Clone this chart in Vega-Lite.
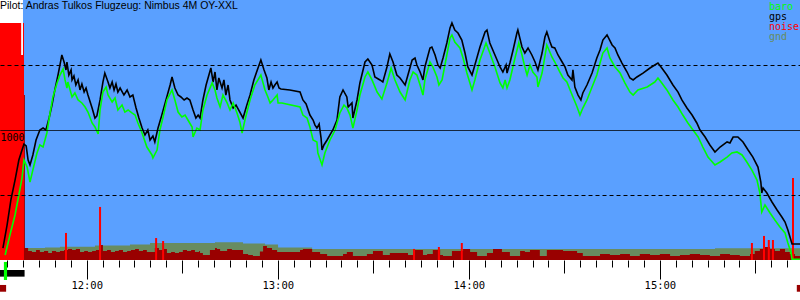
{
"$schema": "https://vega.github.io/schema/vega-lite/v6.json",
"width": 800, "height": 260,
"autosize": "none",
"padding": {"left": 0, "top": 0, "right": 0, "bottom": 40},
"background": "white",
"view": {"fill": "#5aa0ff", "stroke": null},
"datasets": {
"lines": [
{"t":693.7,"s":"gps","alt":92},{"t":695.0,"s":"gps","alt":269},{"t":696.2,"s":"gps","alt":462},{"t":697.5,"s":"gps","alt":615},{"t":698.7,"s":"gps","alt":769},{"t":699.7,"s":"gps","alt":846},{"t":700.3,"s":"gps","alt":892},{"t":701.0,"s":"gps","alt":877},{"t":701.6,"s":"gps","alt":769},{"t":702.2,"s":"gps","alt":731},{"t":703.1,"s":"gps","alt":808},{"t":704.1,"s":"gps","alt":923},{"t":705.3,"s":"gps","alt":1000},{"t":706.3,"s":"gps","alt":1015},{"t":707.2,"s":"gps","alt":1000},{"t":708.2,"s":"gps","alt":1092},{"t":709.1,"s":"gps","alt":1192},{"t":710.0,"s":"gps","alt":1308},{"t":711.0,"s":"gps","alt":1423},{"t":711.9,"s":"gps","alt":1538},{"t":712.2,"s":"gps","alt":1577},{"t":712.9,"s":"gps","alt":1523},{"t":713.5,"s":"gps","alt":1462},{"t":713.8,"s":"gps","alt":1523},{"t":714.4,"s":"gps","alt":1423},{"t":715.1,"s":"gps","alt":1462},{"t":715.4,"s":"gps","alt":1385},{"t":716.0,"s":"gps","alt":1415},{"t":716.6,"s":"gps","alt":1346},{"t":717.3,"s":"gps","alt":1385},{"t":717.9,"s":"gps","alt":1308},{"t":718.5,"s":"gps","alt":1354},{"t":719.2,"s":"gps","alt":1292},{"t":719.8,"s":"gps","alt":1323},{"t":720.4,"s":"gps","alt":1269},{"t":721.7,"s":"gps","alt":1169},{"t":722.6,"s":"gps","alt":1092},{"t":723.2,"s":"gps","alt":1108},{"t":724.2,"s":"gps","alt":1231},{"t":725.1,"s":"gps","alt":1369},{"t":725.7,"s":"gps","alt":1438},{"t":726.7,"s":"gps","alt":1369},{"t":727.3,"s":"gps","alt":1323},{"t":728.0,"s":"gps","alt":1369},{"t":728.6,"s":"gps","alt":1308},{"t":729.2,"s":"gps","alt":1354},{"t":729.8,"s":"gps","alt":1292},{"t":730.5,"s":"gps","alt":1323},{"t":731.7,"s":"gps","alt":1269},{"t":732.7,"s":"gps","alt":1308},{"t":733.6,"s":"gps","alt":1254},{"t":734.5,"s":"gps","alt":1269},{"t":735.5,"s":"gps","alt":1169},{"t":736.4,"s":"gps","alt":1092},{"t":737.4,"s":"gps","alt":1015},{"t":738.3,"s":"gps","alt":962},{"t":739.2,"s":"gps","alt":1000},{"t":739.9,"s":"gps","alt":923},{"t":740.8,"s":"gps","alt":954},{"t":741.4,"s":"gps","alt":908},{"t":742.4,"s":"gps","alt":1015},{"t":743.6,"s":"gps","alt":1115},{"t":744.9,"s":"gps","alt":1231},{"t":746.2,"s":"gps","alt":1346},{"t":746.8,"s":"gps","alt":1408},{"t":747.7,"s":"gps","alt":1323},{"t":748.7,"s":"gps","alt":1269},{"t":749.6,"s":"gps","alt":1254},{"t":750.6,"s":"gps","alt":1231},{"t":751.5,"s":"gps","alt":1246},{"t":752.4,"s":"gps","alt":1231},{"t":753.4,"s":"gps","alt":1154},{"t":754.3,"s":"gps","alt":1092},{"t":755.0,"s":"gps","alt":1115},{"t":755.6,"s":"gps","alt":1092},{"t":756.5,"s":"gps","alt":1231},{"t":757.5,"s":"gps","alt":1346},{"t":759.0,"s":"gps","alt":1477},{"t":759.7,"s":"gps","alt":1369},{"t":760.3,"s":"gps","alt":1446},{"t":760.9,"s":"gps","alt":1308},{"t":761.5,"s":"gps","alt":1400},{"t":762.5,"s":"gps","alt":1323},{"t":763.1,"s":"gps","alt":1385},{"t":763.7,"s":"gps","alt":1269},{"t":764.4,"s":"gps","alt":1346},{"t":765.0,"s":"gps","alt":1231},{"t":766.0,"s":"gps","alt":1169},{"t":766.9,"s":"gps","alt":1192},{"t":768.1,"s":"gps","alt":1138},{"t":769.1,"s":"gps","alt":1092},{"t":770.3,"s":"gps","alt":1192},{"t":771.3,"s":"gps","alt":1269},{"t":772.5,"s":"gps","alt":1385},{"t":773.8,"s":"gps","alt":1477},{"t":774.7,"s":"gps","alt":1538},{"t":775.7,"s":"gps","alt":1462},{"t":776.6,"s":"gps","alt":1400},{"t":777.2,"s":"gps","alt":1308},{"t":777.9,"s":"gps","alt":1369},{"t":778.5,"s":"gps","alt":1323},{"t":779.1,"s":"gps","alt":1346},{"t":779.8,"s":"gps","alt":1369},{"t":780.4,"s":"gps","alt":1323},{"t":781.0,"s":"gps","alt":1315},{"t":783.8,"s":"gps","alt":1308},{"t":787.0,"s":"gps","alt":1292},{"t":787.9,"s":"gps","alt":1231},{"t":788.9,"s":"gps","alt":1200},{"t":790.1,"s":"gps","alt":1115},{"t":791.1,"s":"gps","alt":1077},{"t":791.7,"s":"gps","alt":1038},{"t":792.3,"s":"gps","alt":1015},{"t":793.0,"s":"gps","alt":1046},{"t":793.6,"s":"gps","alt":938},{"t":793.9,"s":"gps","alt":846},{"t":794.5,"s":"gps","alt":885},{"t":795.5,"s":"gps","alt":923},{"t":796.4,"s":"gps","alt":962},{"t":797.3,"s":"gps","alt":1000},{"t":798.6,"s":"gps","alt":1077},{"t":799.5,"s":"gps","alt":1254},{"t":800.5,"s":"gps","alt":1308},{"t":801.7,"s":"gps","alt":1254},{"t":802.1,"s":"gps","alt":1177},{"t":803.3,"s":"gps","alt":1208},{"t":803.6,"s":"gps","alt":1092},{"t":804.9,"s":"gps","alt":1231},{"t":805.8,"s":"gps","alt":1362},{"t":807.4,"s":"gps","alt":1523},{"t":808.3,"s":"gps","alt":1546},{"t":809.6,"s":"gps","alt":1500},{"t":810.5,"s":"gps","alt":1408},{"t":812.1,"s":"gps","alt":1385},{"t":813.0,"s":"gps","alt":1369},{"t":814.3,"s":"gps","alt":1485},{"t":815.2,"s":"gps","alt":1585},{"t":816.2,"s":"gps","alt":1523},{"t":817.4,"s":"gps","alt":1423},{"t":818.4,"s":"gps","alt":1400},{"t":820.0,"s":"gps","alt":1346},{"t":822.2,"s":"gps","alt":1538},{"t":823.1,"s":"gps","alt":1554},{"t":823.7,"s":"gps","alt":1500},{"t":824.7,"s":"gps","alt":1446},{"t":825.6,"s":"gps","alt":1385},{"t":826.2,"s":"gps","alt":1485},{"t":827.8,"s":"gps","alt":1631},{"t":828.4,"s":"gps","alt":1638},{"t":829.4,"s":"gps","alt":1577},{"t":830.3,"s":"gps","alt":1500},{"t":831.0,"s":"gps","alt":1477},{"t":831.9,"s":"gps","alt":1554},{"t":833.1,"s":"gps","alt":1669},{"t":834.1,"s":"gps","alt":1785},{"t":834.7,"s":"gps","alt":1823},{"t":835.6,"s":"gps","alt":1769},{"t":836.6,"s":"gps","alt":1746},{"t":837.8,"s":"gps","alt":1692},{"t":838.8,"s":"gps","alt":1592},{"t":839.7,"s":"gps","alt":1485},{"t":841.0,"s":"gps","alt":1423},{"t":841.9,"s":"gps","alt":1500},{"t":843.5,"s":"gps","alt":1638},{"t":845.1,"s":"gps","alt":1754},{"t":845.7,"s":"gps","alt":1769},{"t":846.6,"s":"gps","alt":1669},{"t":848.2,"s":"gps","alt":1577},{"t":849.8,"s":"gps","alt":1485},{"t":850.7,"s":"gps","alt":1446},{"t":851.7,"s":"gps","alt":1500},{"t":852.0,"s":"gps","alt":1438},{"t":852.9,"s":"gps","alt":1515},{"t":853.9,"s":"gps","alt":1615},{"t":855.1,"s":"gps","alt":1746},{"t":855.4,"s":"gps","alt":1769},{"t":856.7,"s":"gps","alt":1638},{"t":857.6,"s":"gps","alt":1592},{"t":858.6,"s":"gps","alt":1631},{"t":859.8,"s":"gps","alt":1577},{"t":860.8,"s":"gps","alt":1523},{"t":861.7,"s":"gps","alt":1462},{"t":863.0,"s":"gps","alt":1592},{"t":863.9,"s":"gps","alt":1715},{"t":864.5,"s":"gps","alt":1754},{"t":865.5,"s":"gps","alt":1677},{"t":866.1,"s":"gps","alt":1638},{"t":867.0,"s":"gps","alt":1631},{"t":868.0,"s":"gps","alt":1577},{"t":869.3,"s":"gps","alt":1523},{"t":870.2,"s":"gps","alt":1485},{"t":871.1,"s":"gps","alt":1423},{"t":872.4,"s":"gps","alt":1385},{"t":872.7,"s":"gps","alt":1462},{"t":873.3,"s":"gps","alt":1331},{"t":874.3,"s":"gps","alt":1269},{"t":875.2,"s":"gps","alt":1231},{"t":875.8,"s":"gps","alt":1285},{"t":877.1,"s":"gps","alt":1346},{"t":878.7,"s":"gps","alt":1438},{"t":880.2,"s":"gps","alt":1554},{"t":881.2,"s":"gps","alt":1615},{"t":882.1,"s":"gps","alt":1692},{"t":883.4,"s":"gps","alt":1731},{"t":885.0,"s":"gps","alt":1654},{"t":885.9,"s":"gps","alt":1631},{"t":886.8,"s":"gps","alt":1577},{"t":888.1,"s":"gps","alt":1515},{"t":889.7,"s":"gps","alt":1446},{"t":890.6,"s":"gps","alt":1400},{"t":891.6,"s":"gps","alt":1385},{"t":892.8,"s":"gps","alt":1408},{"t":894.7,"s":"gps","alt":1438},{"t":896.9,"s":"gps","alt":1477},{"t":898.4,"s":"gps","alt":1500},{"t":899.4,"s":"gps","alt":1515},{"t":900.6,"s":"gps","alt":1477},{"t":902.2,"s":"gps","alt":1423},{"t":904.1,"s":"gps","alt":1346},{"t":905.7,"s":"gps","alt":1292},{"t":906.9,"s":"gps","alt":1231},{"t":908.5,"s":"gps","alt":1169},{"t":910.1,"s":"gps","alt":1115},{"t":911.6,"s":"gps","alt":1054},{"t":912.6,"s":"gps","alt":1000},{"t":914.2,"s":"gps","alt":946},{"t":915.7,"s":"gps","alt":885},{"t":917.3,"s":"gps","alt":831},{"t":918.9,"s":"gps","alt":869},{"t":921.1,"s":"gps","alt":908},{"t":922.0,"s":"gps","alt":900},{"t":923.0,"s":"gps","alt":946},{"t":924.5,"s":"gps","alt":946},{"t":926.1,"s":"gps","alt":908},{"t":927.7,"s":"gps","alt":846},{"t":929.2,"s":"gps","alt":792},{"t":930.8,"s":"gps","alt":715},{"t":931.7,"s":"gps","alt":600},{"t":932.0,"s":"gps","alt":515},{"t":932.4,"s":"gps","alt":554},{"t":933.6,"s":"gps","alt":515},{"t":935.2,"s":"gps","alt":446},{"t":936.8,"s":"gps","alt":385},{"t":938.3,"s":"gps","alt":331},{"t":939.3,"s":"gps","alt":292},{"t":940.2,"s":"gps","alt":231},{"t":941.5,"s":"gps","alt":123},{"t":944.0,"s":"gps","alt":123},
{"t":694.4,"s":"baro","alt":38},{"t":695.9,"s":"baro","alt":192},{"t":697.5,"s":"baro","alt":346},{"t":698.7,"s":"baro","alt":500},{"t":699.7,"s":"baro","alt":631},{"t":700.3,"s":"baro","alt":769},{"t":701.3,"s":"baro","alt":715},{"t":702.2,"s":"baro","alt":600},{"t":703.1,"s":"baro","alt":692},{"t":704.4,"s":"baro","alt":823},{"t":705.3,"s":"baro","alt":885},{"t":706.3,"s":"baro","alt":869},{"t":707.5,"s":"baro","alt":977},{"t":708.5,"s":"baro","alt":1131},{"t":709.4,"s":"baro","alt":1254},{"t":710.7,"s":"baro","alt":1362},{"t":711.6,"s":"baro","alt":1423},{"t":712.6,"s":"baro","alt":1469},{"t":713.2,"s":"baro","alt":1385},{"t":713.8,"s":"baro","alt":1323},{"t":714.1,"s":"baro","alt":1369},{"t":715.4,"s":"baro","alt":1254},{"t":716.3,"s":"baro","alt":1285},{"t":717.3,"s":"baro","alt":1231},{"t":718.5,"s":"baro","alt":1208},{"t":719.5,"s":"baro","alt":1177},{"t":720.4,"s":"baro","alt":1138},{"t":721.7,"s":"baro","alt":1054},{"t":722.6,"s":"baro","alt":1023},{"t":723.6,"s":"baro","alt":969},{"t":724.2,"s":"baro","alt":1154},{"t":725.1,"s":"baro","alt":1292},{"t":726.1,"s":"baro","alt":1331},{"t":726.7,"s":"baro","alt":1269},{"t":728.0,"s":"baro","alt":1215},{"t":728.9,"s":"baro","alt":1246},{"t":729.8,"s":"baro","alt":1154},{"t":731.1,"s":"baro","alt":1192},{"t":732.0,"s":"baro","alt":1138},{"t":733.0,"s":"baro","alt":1154},{"t":734.2,"s":"baro","alt":1131},{"t":735.2,"s":"baro","alt":1115},{"t":736.1,"s":"baro","alt":1054},{"t":737.4,"s":"baro","alt":977},{"t":738.9,"s":"baro","alt":869},{"t":740.5,"s":"baro","alt":808},{"t":740.8,"s":"baro","alt":785},{"t":742.1,"s":"baro","alt":846},{"t":743.0,"s":"baro","alt":1000},{"t":744.0,"s":"baro","alt":1100},{"t":745.2,"s":"baro","alt":1231},{"t":746.8,"s":"baro","alt":1308},{"t":747.7,"s":"baro","alt":1231},{"t":748.7,"s":"baro","alt":1138},{"t":749.9,"s":"baro","alt":1100},{"t":750.9,"s":"baro","alt":1115},{"t":751.8,"s":"baro","alt":1077},{"t":753.1,"s":"baro","alt":1023},{"t":753.4,"s":"baro","alt":946},{"t":754.6,"s":"baro","alt":1015},{"t":755.6,"s":"baro","alt":1000},{"t":756.5,"s":"baro","alt":1154},{"t":757.8,"s":"baro","alt":1269},{"t":759.4,"s":"baro","alt":1362},{"t":760.3,"s":"baro","alt":1308},{"t":760.9,"s":"baro","alt":1246},{"t":761.9,"s":"baro","alt":1177},{"t":762.8,"s":"baro","alt":1269},{"t":764.1,"s":"baro","alt":1208},{"t":765.0,"s":"baro","alt":1154},{"t":766.0,"s":"baro","alt":1208},{"t":767.2,"s":"baro","alt":1131},{"t":768.1,"s":"baro","alt":1062},{"t":768.8,"s":"baro","alt":977},{"t":769.7,"s":"baro","alt":1077},{"t":771.3,"s":"baro","alt":1231},{"t":772.8,"s":"baro","alt":1346},{"t":774.7,"s":"baro","alt":1423},{"t":776.0,"s":"baro","alt":1308},{"t":776.9,"s":"baro","alt":1254},{"t":777.6,"s":"baro","alt":1208},{"t":778.5,"s":"baro","alt":1231},{"t":779.8,"s":"baro","alt":1269},{"t":780.1,"s":"baro","alt":1208},{"t":781.3,"s":"baro","alt":1208},{"t":787.0,"s":"baro","alt":1177},{"t":787.9,"s":"baro","alt":1115},{"t":789.2,"s":"baro","alt":1092},{"t":790.1,"s":"baro","alt":1023},{"t":791.1,"s":"baro","alt":923},{"t":792.3,"s":"baro","alt":908},{"t":792.6,"s":"baro","alt":823},{"t":793.9,"s":"baro","alt":731},{"t":794.8,"s":"baro","alt":823},{"t":796.4,"s":"baro","alt":923},{"t":798.0,"s":"baro","alt":1000},{"t":799.5,"s":"baro","alt":1131},{"t":800.8,"s":"baro","alt":1192},{"t":801.7,"s":"baro","alt":1169},{"t":802.7,"s":"baro","alt":1115},{"t":803.6,"s":"baro","alt":1015},{"t":804.9,"s":"baro","alt":1154},{"t":805.8,"s":"baro","alt":1269},{"t":807.4,"s":"baro","alt":1408},{"t":808.3,"s":"baro","alt":1446},{"t":809.6,"s":"baro","alt":1385},{"t":811.2,"s":"baro","alt":1292},{"t":812.7,"s":"baro","alt":1238},{"t":814.3,"s":"baro","alt":1362},{"t":815.6,"s":"baro","alt":1477},{"t":816.8,"s":"baro","alt":1385},{"t":818.4,"s":"baro","alt":1292},{"t":820.0,"s":"baro","alt":1231},{"t":821.5,"s":"baro","alt":1385},{"t":822.5,"s":"baro","alt":1446},{"t":823.7,"s":"baro","alt":1423},{"t":824.7,"s":"baro","alt":1346},{"t":825.6,"s":"baro","alt":1269},{"t":826.2,"s":"baro","alt":1385},{"t":827.8,"s":"baro","alt":1523},{"t":828.7,"s":"baro","alt":1485},{"t":830.0,"s":"baro","alt":1408},{"t":830.6,"s":"baro","alt":1346},{"t":831.6,"s":"baro","alt":1385},{"t":833.1,"s":"baro","alt":1577},{"t":834.1,"s":"baro","alt":1708},{"t":834.7,"s":"baro","alt":1731},{"t":835.6,"s":"baro","alt":1677},{"t":837.2,"s":"baro","alt":1631},{"t":838.2,"s":"baro","alt":1554},{"t":839.4,"s":"baro","alt":1438},{"t":841.0,"s":"baro","alt":1308},{"t":841.9,"s":"baro","alt":1385},{"t":843.5,"s":"baro","alt":1538},{"t":845.4,"s":"baro","alt":1669},{"t":846.6,"s":"baro","alt":1592},{"t":848.2,"s":"baro","alt":1485},{"t":849.8,"s":"baro","alt":1362},{"t":850.7,"s":"baro","alt":1323},{"t":851.4,"s":"baro","alt":1385},{"t":852.0,"s":"baro","alt":1323},{"t":852.9,"s":"baro","alt":1385},{"t":854.5,"s":"baro","alt":1554},{"t":855.7,"s":"baro","alt":1669},{"t":856.7,"s":"baro","alt":1577},{"t":857.6,"s":"baro","alt":1485},{"t":858.3,"s":"baro","alt":1423},{"t":859.2,"s":"baro","alt":1500},{"t":860.1,"s":"baro","alt":1446},{"t":861.4,"s":"baro","alt":1408},{"t":861.7,"s":"baro","alt":1331},{"t":863.0,"s":"baro","alt":1438},{"t":864.5,"s":"baro","alt":1654},{"t":866.1,"s":"baro","alt":1562},{"t":867.0,"s":"baro","alt":1523},{"t":868.6,"s":"baro","alt":1446},{"t":869.6,"s":"baro","alt":1400},{"t":870.8,"s":"baro","alt":1369},{"t":871.8,"s":"baro","alt":1308},{"t":872.7,"s":"baro","alt":1254},{"t":874.0,"s":"baro","alt":1177},{"t":874.9,"s":"baro","alt":1115},{"t":875.8,"s":"baro","alt":1169},{"t":877.1,"s":"baro","alt":1231},{"t":878.7,"s":"baro","alt":1331},{"t":880.2,"s":"baro","alt":1423},{"t":881.2,"s":"baro","alt":1515},{"t":882.1,"s":"baro","alt":1592},{"t":883.4,"s":"baro","alt":1631},{"t":884.3,"s":"baro","alt":1554},{"t":885.9,"s":"baro","alt":1485},{"t":887.5,"s":"baro","alt":1438},{"t":889.0,"s":"baro","alt":1362},{"t":890.6,"s":"baro","alt":1292},{"t":891.6,"s":"baro","alt":1269},{"t":893.1,"s":"baro","alt":1308},{"t":896.0,"s":"baro","alt":1331},{"t":898.4,"s":"baro","alt":1369},{"t":899.4,"s":"baro","alt":1400},{"t":900.6,"s":"baro","alt":1362},{"t":902.2,"s":"baro","alt":1308},{"t":904.1,"s":"baro","alt":1231},{"t":905.7,"s":"baro","alt":1177},{"t":907.2,"s":"baro","alt":1115},{"t":908.8,"s":"baro","alt":1054},{"t":910.4,"s":"baro","alt":1000},{"t":912.0,"s":"baro","alt":946},{"t":913.5,"s":"baro","alt":869},{"t":915.1,"s":"baro","alt":792},{"t":917.3,"s":"baro","alt":731},{"t":918.9,"s":"baro","alt":754},{"t":921.1,"s":"baro","alt":792},{"t":922.6,"s":"baro","alt":823},{"t":924.2,"s":"baro","alt":831},{"t":925.8,"s":"baro","alt":808},{"t":927.3,"s":"baro","alt":754},{"t":928.9,"s":"baro","alt":692},{"t":930.5,"s":"baro","alt":615},{"t":931.4,"s":"baro","alt":515},{"t":932.0,"s":"baro","alt":369},{"t":933.0,"s":"baro","alt":423},{"t":934.6,"s":"baro","alt":362},{"t":936.1,"s":"baro","alt":308},{"t":937.7,"s":"baro","alt":254},{"t":939.3,"s":"baro","alt":208},{"t":940.2,"s":"baro","alt":131},{"t":941.2,"s":"baro","alt":54},{"t":941.5,"s":"baro","alt":6},{"t":944.0,"s":"baro","alt":6}
],
"gnd": [
{"t":700.3,"alt":92},{"t":706.9,"alt":96},{"t":711.6,"alt":102},{"t":722.6,"alt":112},{"t":733.6,"alt":119},{"t":739.9,"alt":131},{"t":755.6,"alt":131},{"t":760.3,"alt":136},{"t":769.1,"alt":127},{"t":776.0,"alt":119},{"t":780.1,"alt":96},{"t":790.8,"alt":85},{"t":881.2,"alt":85},{"t":917.3,"alt":90},{"t":944.0,"alt":90}
],
"noise": [
{"t":692.78,"alt":1823},{"t":699.4,"alt":1577},{"t":700.0,"alt":1823},{"t":700.3,"alt":1269},{"t":700.6,"alt":92},{"t":701.6,"alt":69},{"t":702.8,"alt":62},{"t":704.1,"alt":77},{"t":705.3,"alt":62},{"t":706.6,"alt":69},{"t":707.9,"alt":54},{"t":709.1,"alt":69},{"t":710.4,"alt":62},{"t":711.6,"alt":69},{"t":712.9,"alt":77},{"t":714.1,"alt":85},{"t":715.4,"alt":77},{"t":716.6,"alt":85},{"t":717.9,"alt":62},{"t":719.2,"alt":69},{"t":720.4,"alt":62},{"t":721.7,"alt":69},{"t":722.9,"alt":77},{"t":724.2,"alt":115},{"t":725.1,"alt":69},{"t":726.4,"alt":77},{"t":727.6,"alt":62},{"t":728.9,"alt":69},{"t":730.1,"alt":77},{"t":731.4,"alt":62},{"t":732.7,"alt":69},{"t":733.9,"alt":77},{"t":735.2,"alt":85},{"t":736.4,"alt":69},{"t":737.7,"alt":77},{"t":738.9,"alt":62},{"t":740.2,"alt":62},{"t":741.4,"alt":92},{"t":742.7,"alt":77},{"t":744.0,"alt":85},{"t":745.2,"alt":54},{"t":746.5,"alt":62},{"t":747.7,"alt":54},{"t":749.0,"alt":62},{"t":750.2,"alt":77},{"t":751.5,"alt":69},{"t":752.8,"alt":77},{"t":754.0,"alt":62},{"t":755.3,"alt":69},{"t":755.6,"alt":54},{"t":756.5,"alt":38},{"t":758.7,"alt":77},{"t":760.3,"alt":92},{"t":760.9,"alt":85},{"t":761.9,"alt":69},{"t":764.1,"alt":85},{"t":765.6,"alt":77},{"t":769.1,"alt":46},{"t":770.7,"alt":38},{"t":772.2,"alt":31},{"t":774.4,"alt":65},{"t":775.4,"alt":108},{"t":776.6,"alt":92},{"t":778.2,"alt":77},{"t":779.8,"alt":62},{"t":787.0,"alt":77},{"t":787.9,"alt":85},{"t":790.8,"alt":62},{"t":793.3,"alt":46},{"t":795.5,"alt":31},{"t":800.5,"alt":46},{"t":801.7,"alt":62},{"t":803.6,"alt":31},{"t":808.0,"alt":46},{"t":809.9,"alt":69},{"t":813.0,"alt":38},{"t":815.2,"alt":54},{"t":818.4,"alt":54},{"t":820.9,"alt":38},{"t":822.5,"alt":77},{"t":825.6,"alt":38},{"t":826.9,"alt":46},{"t":828.7,"alt":77},{"t":831.0,"alt":38},{"t":831.9,"alt":31},{"t":834.7,"alt":69},{"t":838.2,"alt":85},{"t":840.4,"alt":62},{"t":842.6,"alt":31},{"t":845.7,"alt":54},{"t":847.6,"alt":85},{"t":850.4,"alt":62},{"t":852.9,"alt":31},{"t":856.1,"alt":69},{"t":857.6,"alt":62},{"t":859.2,"alt":77},{"t":862.3,"alt":31},{"t":864.5,"alt":77},{"t":869.6,"alt":69},{"t":874.0,"alt":54},{"t":875.8,"alt":31},{"t":881.2,"alt":46},{"t":884.3,"alt":38},{"t":887.5,"alt":46},{"t":890.6,"alt":31},{"t":893.7,"alt":46},{"t":896.9,"alt":38},{"t":900.0,"alt":46},{"t":903.2,"alt":31},{"t":906.3,"alt":38},{"t":909.4,"alt":46},{"t":912.6,"alt":38},{"t":915.7,"alt":31},{"t":918.9,"alt":46},{"t":922.0,"alt":38},{"t":925.1,"alt":31},{"t":928.3,"alt":46},{"t":929.8,"alt":69},{"t":931.4,"alt":85},{"t":933.0,"alt":100},{"t":934.6,"alt":85},{"t":936.1,"alt":69},{"t":937.7,"alt":85},{"t":939.3,"alt":62},{"t":940.8,"alt":46},{"t":942.4,"alt":31},{"t":944.0,"alt":31}
],
"spikes": [
{"t":713.5,"alt":208},{"t":724.2,"alt":408},{"t":741.8,"alt":169},{"t":744.0,"alt":146},{"t":822.8,"alt":85},{"t":830.6,"alt":100},{"t":837.8,"alt":131},{"t":928.9,"alt":131},{"t":932.7,"alt":185},{"t":934.2,"alt":154},{"t":935.5,"alt":154},{"t":941.8,"alt":631}
],
"strip": [
{"kind":"tow","t":692.78,"t2":700.5,"alt":-77,"alt2":-128},
{"kind":"launch","t":694.0,"t2":695.0,"alt":-15,"alt2":-154},
{"kind":"enl","t":692.78,"t2":694.7,"alt":-192,"alt2":-244},
{"kind":"enl","t":943.0,"t2":944.0,"alt":-192,"alt2":-244}
]
},
"encoding": {
"x": {"field": "t", "type": "quantitative", "title": null,
"scale": {"domain": [692.78, 944], "nice": false, "zero": false},
"axis": {"title": null, "domain": false, "grid": false, "zindex": 1,
"values": [695,700,705,710,715,720,725,730,735,740,745,750,755,760,765,770,775,780,785,790,795,800,805,810,815,820,825,830,835,840,845,850,855,860,865,870,875,880,885,890,895,900,905,910,915,920,925,930,935,940],
"tickColor": "black", "tickWidth": 1,
"tickSize": {"condition": [{"test": "datum.value % 60 === 0", "value": 19}, {"test": "datum.value % 30 === 0", "value": 13}], "value": 7},
"labelExpr": "datum.value % 60 === 0 ? (floor(datum.value / 60) + ':00') : ''",
"labelFont": "DejaVu Sans Mono", "labelFontSize": 10.5, "labelColor": "black",
"labelBaseline": "top", "labelPadding": 1, "labelFlush": false, "labelOverlap": false
}},
"y": {"field": "alt", "type": "quantitative", "title": null,
"scale": {"domain": [0, 2000], "nice": false, "zero": false},
"axis": {"title": null, "domain": false, "ticks": false, "tickSize": 0, "values": [500, 1000, 1500], "zindex": 1,
"grid": true, "gridColor": "black", "gridOpacity": 1, "gridWidth": 1,
"gridDash": {"condition": {"test": "datum.value === 1000", "value": [1, 0]}, "value": [4, 3]},
"labelExpr": "datum.value === 1000 ? '1000' : ''",
"labelAlign": "left", "labelBaseline": "top", "labelPadding": 0, "labelOffset": 2,
"labelFont": "DejaVu Sans Mono", "labelFontSize": 10, "labelColor": "black"}}
},
"layer": [
{
"data": {"values": [{"t": 692.78, "t2": 700.0, "alt": 0, "alt2": 2000}]},
"mark": {"type": "rect", "color": "white"},
"encoding": {"x2": {"field": "t2"}, "y2": {"field": "alt2"}}
},
{
"data": {"name": "gnd"},
"mark": {"type": "area", "color": "#688c60", "interpolate": "step-after"},
"encoding": {}
},
{
"data": {"name": "noise"},
"mark": {"type": "area", "color": "#990000", "interpolate": "step-after"},
"encoding": {}
},
{
"data": {"name": "noise"},
"transform": [{"filter": "datum.alt > 1000"}],
"mark": {"type": "area", "color": "#ff0000", "interpolate": "step-after"},
"encoding": {}
},
{
"data": {"name": "spikes"},
"mark": {"type": "rule", "color": "#ff0000", "strokeWidth": 2},
"encoding": {"y2": {"datum": 0}}
},
{
"data": {"name": "lines"},
"mark": {"type": "line", "strokeWidth": 1.6},
"encoding": {
"color": {"field": "s", "type": "nominal",
"scale": {"domain": ["baro", "gps", "noise", "gnd"], "range": ["#00ff00", "#000000", "#ff0000", "#688c60"]},
"legend": {"orient": "none", "legendX": 759, "legendY": 2, "title": null, "padding": 0,
"symbolSize": 0, "symbolOpacity": 0, "symbolStrokeWidth": 0, "labelOffset": 0, "rowPadding": 0,
"labelFont": "DejaVu Sans Mono", "labelFontSize": 10, "labelLimit": 0,
"encode": {"labels": {"update": {"fill": {"scale": "color", "field": "value"}}}}}},
"order": {"field": "s", "sort": "ascending"}
}
},
{
"data": {"name": "strip"},
"transform": [{"filter": "datum.kind === 'tow'"}],
"mark": {"type": "rect", "color": "black"},
"encoding": {"x2": {"field": "t2"}, "y2": {"field": "alt2"}}
},
{
"data": {"name": "strip"},
"transform": [{"filter": "datum.kind === 'launch'"}],
"mark": {"type": "rect", "color": "#00ff00"},
"encoding": {"x2": {"field": "t2"}, "y2": {"field": "alt2"}}
},
{
"data": {"name": "strip"},
"transform": [{"filter": "datum.kind === 'enl'"}],
"mark": {"type": "rect", "color": "#990000"},
"encoding": {"x2": {"field": "t2"}, "y2": {"field": "alt2"}}
},
{
"data": {"values": [{"label": "Pilot: Andras Tulkos Flugzeug: Nimbus 4M OY-XXL", "t": 692.78, "alt": 2000}]},
"mark": {"type": "text", "align": "left", "baseline": "top", "dy": 1, "font": "Liberation Sans", "fontSize": 10.5, "color": "black"},
"encoding": {"text": {"field": "label"}}
}
]
}
